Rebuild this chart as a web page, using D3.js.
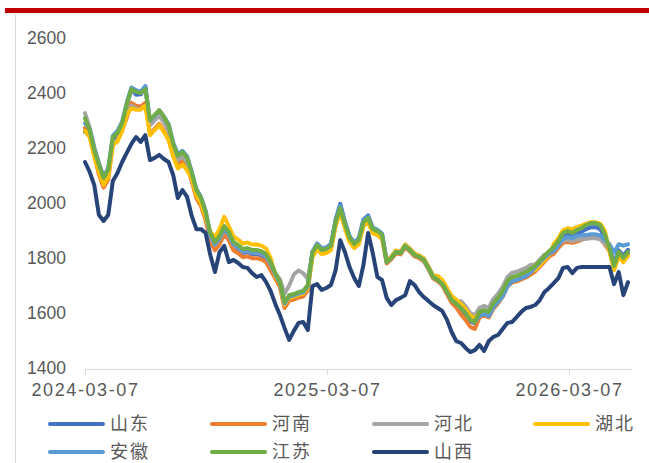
<!DOCTYPE html>
<html>
<head>
<meta charset="utf-8">
<script src="https://cdn.jsdelivr.net/npm/d3@7"></script>
<style>
  html, body { margin: 0; padding: 0; background: #ffffff; }
  svg { display: block; }
</style>
</head>
<body>
<svg id="chart" width="649" height="463"></svg>
<script>
// Weekly price series, first observation on 2024-03-07
const startDate = "2024-03-07";
const stepDays = 7;
const yTicks = [1400, 1600, 1800, 2000, 2200, 2400, 2600];
const xTickLabels = ["2024-03-07", "2025-03-07", "2026-03-07"];

const seriesNames = ["山东", "河南", "河北", "湖北", "安徽", "江苏", "山西"];
const seriesColors = ["#4472C4", "#ED7D31", "#A5A5A5", "#FFC000", "#5B9BD5", "#70AD47", "#264478"];

const shandong = [
  2258, 2250, 2178, 2128, 2080, 2110, 2225, 2240, 2275, 2355,
  2414, 2394, 2395, 2424, 2287, 2305, 2322, 2298, 2270, 2204,
  2160, 2175, 2154, 2099, 2037, 2008, 1957, 1876, 1843, 1866,
  1900, 1880, 1845, 1832, 1818, 1822, 1814, 1815, 1810, 1800,
  1772, 1735, 1703, 1628, 1655, 1660, 1666, 1672, 1692, 1822,
  1852, 1835, 1838, 1850, 1940, 1997, 1932, 1880, 1855, 1872,
  1940, 1955, 1910, 1902, 1888, 1788, 1800, 1825, 1818, 1846,
  1830, 1812, 1805, 1792, 1765, 1732, 1718, 1705, 1676, 1645,
  1632, 1613, 1594, 1570, 1562, 1595, 1600, 1594, 1626, 1645,
  1670, 1705, 1722, 1725, 1732, 1740, 1752, 1766, 1784, 1802,
  1818, 1825, 1848, 1876, 1884, 1878, 1888, 1895, 1905, 1912,
  1912, 1905, 1875, 1840, 1780, 1828, 1808, 1830
];
const henan = [
  2273, 2245, 2173, 2103, 2056, 2085, 2215, 2229, 2266, 2310,
  2364, 2354, 2350, 2364, 2252, 2270, 2288, 2263, 2234, 2184,
  2141, 2155, 2134, 2079, 2017, 1988, 1937, 1861, 1828, 1850,
  1886, 1864, 1828, 1817, 1803, 1806, 1799, 1799, 1795, 1785,
  1755, 1725, 1693, 1618, 1645, 1649, 1656, 1660, 1682, 1808,
  1837, 1819, 1823, 1834, 1921, 1972, 1914, 1863, 1841, 1855,
  1921, 1935, 1895, 1888, 1874, 1780, 1795, 1817, 1813, 1839,
  1824, 1806, 1799, 1788, 1759, 1726, 1715, 1700, 1668, 1637,
  1620, 1595, 1575, 1550, 1542, 1584, 1591, 1584, 1616, 1635,
  1660, 1696, 1711, 1715, 1722, 1729, 1740, 1751, 1769, 1787,
  1805, 1815, 1837, 1855, 1858, 1855, 1860, 1866, 1872, 1876,
  1876, 1870, 1850, 1826, 1761, 1812, 1790, 1812
];
const hebei = [
  2327, 2275, 2203, 2143, 2096, 2125, 2215, 2229, 2266, 2320,
  2354, 2344, 2340, 2354, 2282, 2300, 2318, 2293, 2264, 2199,
  2156, 2170, 2149, 2094, 2032, 2003, 1952, 1881, 1848, 1870,
  1906, 1884, 1848, 1837, 1823, 1826, 1819, 1819, 1815, 1805,
  1775, 1745, 1723, 1670, 1700, 1740, 1755, 1745, 1725, 1813,
  1842, 1824, 1828, 1839, 1926, 1977, 1919, 1868, 1846, 1860,
  1926, 1940, 1900, 1893, 1879, 1790, 1805, 1827, 1823, 1849,
  1834, 1816, 1809, 1798, 1769, 1736, 1725, 1710, 1681, 1652,
  1640, 1643, 1625, 1600, 1592, 1619, 1626, 1619, 1651, 1670,
  1695, 1731, 1746, 1750, 1757, 1764, 1775, 1776, 1794, 1812,
  1818, 1830, 1848, 1862, 1866, 1862, 1866, 1868, 1870, 1872,
  1872, 1868, 1855, 1831, 1766, 1817, 1795, 1817
];
const hubei = [
  2262, 2240, 2168, 2113, 2066, 2095, 2210, 2224, 2261, 2320,
  2344, 2339, 2340, 2354, 2247, 2265, 2283, 2258, 2229, 2169,
  2126, 2140, 2119, 2089, 2027, 1998, 1947, 1895, 1875, 1905,
  1950, 1915, 1878, 1867, 1853, 1856, 1849, 1849, 1845, 1835,
  1800, 1735, 1703, 1630, 1655, 1659, 1666, 1670, 1692, 1803,
  1832, 1814, 1818, 1829, 1916, 1967, 1909, 1858, 1836, 1850,
  1916, 1930, 1890, 1883, 1869, 1790, 1805, 1827, 1823, 1849,
  1834, 1816, 1809, 1798, 1769, 1736, 1735, 1720, 1691, 1662,
  1648, 1633, 1615, 1590, 1582, 1599, 1606, 1599, 1631, 1650,
  1675, 1711, 1726, 1730, 1737, 1744, 1755, 1756, 1774, 1792,
  1810, 1850, 1872, 1901, 1908, 1905, 1912, 1918, 1925, 1930,
  1930, 1925, 1900, 1825, 1756, 1807, 1785, 1807
];
const anhui = [
  2290, 2270, 2200, 2145, 2095, 2125, 2245, 2262, 2296, 2365,
  2420, 2410, 2405, 2425, 2300, 2318, 2336, 2315, 2288, 2220,
  2178, 2190, 2170, 2114, 2052, 2022, 1972, 1883, 1850, 1872,
  1908, 1886, 1850, 1840, 1825, 1828, 1821, 1822, 1818, 1808,
  1780, 1740, 1708, 1635, 1660, 1664, 1671, 1675, 1697, 1823,
  1852, 1834, 1838, 1849, 1936, 1990, 1930, 1878, 1856, 1870,
  1936, 1950, 1910, 1903, 1889, 1785, 1800, 1822, 1818, 1844,
  1829, 1811, 1804, 1793, 1764, 1731, 1720, 1705, 1676, 1647,
  1633, 1618, 1600, 1575, 1567, 1589, 1596, 1589, 1621, 1640,
  1660, 1696, 1716, 1720, 1727, 1734, 1748, 1766, 1784, 1802,
  1815, 1825, 1845, 1870, 1876, 1872, 1880, 1882, 1884, 1886,
  1886, 1882, 1865, 1850, 1820, 1850, 1845, 1850
];
const jiangsu = [
  2309, 2265, 2193, 2138, 2091, 2120, 2240, 2254, 2291, 2360,
  2414, 2404, 2400, 2414, 2302, 2320, 2338, 2313, 2284, 2214,
  2171, 2185, 2164, 2109, 2047, 2018, 1967, 1891, 1858, 1880,
  1916, 1894, 1858, 1847, 1833, 1836, 1829, 1829, 1825, 1815,
  1785, 1745, 1713, 1640, 1665, 1669, 1676, 1680, 1702, 1818,
  1847, 1829, 1833, 1844, 1931, 1982, 1924, 1873, 1851, 1865,
  1931, 1945, 1905, 1898, 1884, 1785, 1800, 1822, 1818, 1844,
  1829, 1811, 1804, 1793, 1764, 1731, 1720, 1705, 1676, 1647,
  1633, 1618, 1600, 1575, 1567, 1604, 1611, 1604, 1636, 1655,
  1680, 1716, 1731, 1735, 1742, 1749, 1760, 1771, 1789, 1807,
  1825, 1840, 1862, 1891, 1898, 1891, 1902, 1909, 1920, 1927,
  1927, 1920, 1887, 1836, 1771, 1822, 1800, 1822
];
const shanxi = [
  2149, 2113, 2065, 1956, 1935, 1956, 2080, 2109, 2149, 2182,
  2215, 2240, 2222, 2247, 2156, 2164, 2175, 2160, 2149, 2102,
  2018, 2047, 2022, 1953, 1905, 1905, 1891, 1811, 1749, 1822,
  1844, 1785, 1793, 1782, 1767, 1764, 1745, 1731, 1738, 1713,
  1680, 1633, 1593, 1545, 1502, 1535, 1564, 1567, 1538, 1698,
  1705, 1684, 1691, 1702, 1756, 1865, 1822, 1767, 1727, 1698,
  1775, 1891, 1818, 1731, 1720, 1655, 1629, 1647, 1655, 1665,
  1716, 1702, 1676, 1658, 1644, 1629, 1618, 1607, 1575, 1531,
  1498, 1491, 1473, 1458, 1465, 1484, 1462, 1498, 1513, 1520,
  1542, 1564, 1567, 1585, 1604, 1618, 1622, 1629, 1647, 1676,
  1691, 1709, 1727, 1764, 1767, 1745, 1764, 1767, 1767, 1767,
  1767, 1767, 1767, 1767, 1705, 1749, 1665, 1712
];

const seriesValues = [shandong, henan, hebei, hubei, anhui, jiangsu, shanxi];

const parseDate = d3.timeParse("%Y-%m-%d");
const fmtDate = d3.timeFormat("%Y-%m-%d");
const t0 = parseDate(startDate);
const dates = shanxi.map((_, i) => d3.timeDay.offset(t0, i * stepDays));

const svg = d3.select("#chart");
const labelFont = "'Liberation Sans', Arial, sans-serif";
const cjkFont = "'Noto Sans CJK SC', 'Noto Sans', sans-serif";
const textColor = "#595959";

// Header bar and frame edge
svg.append("rect").attr("x", 5).attr("y", 8).attr("width", 644).attr("height", 5).attr("fill", "#C00000");
svg.append("line").attr("x1", 15.5).attr("x2", 15.5).attr("y1", 14).attr("y2", 463)
  .attr("stroke", "#D9D9D9").attr("stroke-width", 1);

const x = d3.scaleTime().domain([t0, dates[dates.length - 1]]).range([85, 628]);
const y = d3.scaleLinear().domain([1400, 2600]).range([368, 38]);

// Y axis labels (no axis line)
const yAxis = d3.axisLeft(y).tickValues(yTicks).tickSize(0).tickPadding(0).tickFormat(d3.format("d"));
const yg = svg.append("g").attr("transform", "translate(66,0)").call(yAxis);
yg.select(".domain").remove();
yg.selectAll("text").attr("font-family", labelFont).attr("font-size", 17.5).attr("fill", textColor);

// X axis
const xAxis = d3.axisBottom(x)
  .tickValues(xTickLabels.map(parseDate))
  .tickSizeInner(6).tickSizeOuter(0).tickPadding(8)
  .tickFormat(fmtDate);
const xg = svg.append("g").attr("transform", "translate(0,369)").call(xAxis);
xg.select(".domain").attr("stroke", "#D9D9D9").attr("d", "M85,0.5H632");
xg.selectAll(".tick line").attr("stroke", "#D9D9D9");
xg.selectAll("text").attr("font-family", labelFont).attr("font-size", 18)
  .attr("letter-spacing", 1.6).attr("fill", textColor);

// Lines
const line = d3.line()
  .x((d, i) => x(dates[i]))
  .y(d => y(d));

svg.append("g").selectAll("path")
  .data(seriesValues)
  .join("path")
  .attr("d", d => line(d))
  .attr("fill", "none")
  .attr("stroke", (d, i) => seriesColors[i])
  .attr("stroke-width", 4)
  .attr("stroke-linejoin", "round")
  .attr("stroke-linecap", "round");

// Legend
const legendCols = [50, 212, 374, 535];
const legendRows = [424, 452];
const lg = svg.append("g");
seriesNames.forEach((name, i) => {
  const cx = legendCols[i % 4];
  const cy = legendRows[Math.floor(i / 4)];
  lg.append("line")
    .attr("x1", cx).attr("x2", cx + 53)
    .attr("y1", cy).attr("y2", cy)
    .attr("stroke", seriesColors[i]).attr("stroke-width", 4).attr("stroke-linecap", "round");
  lg.append("text")
    .attr("x", cx + 60).attr("y", cy)
    .attr("dy", "0.36em")
    .attr("font-family", cjkFont).attr("font-size", 18)
    .attr("letter-spacing", 2)
    .attr("fill", textColor)
    .text(name);
});
</script>
</body>
</html>
